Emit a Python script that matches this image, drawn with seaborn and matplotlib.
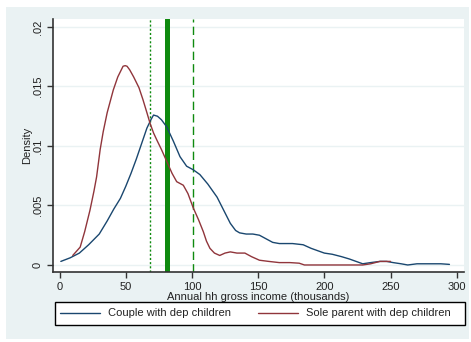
import matplotlib
matplotlib.use("Agg")
import matplotlib.pyplot as plt
from matplotlib.patches import Rectangle
import seaborn as sns
import pandas as pd

# Kernel density estimates of annual household gross income (thousands)
couple_x = [1, 8, 15, 22, 30, 36, 41, 46, 50, 54, 58, 62, 66, 69, 71, 74, 77, 81, 86, 91,
            96, 101, 106, 112, 119, 124, 129, 133, 136, 141, 146, 151, 156, 161, 166, 171,
            176, 184, 190, 195, 200, 206, 213, 219, 224, 229, 235, 242, 247, 252, 258, 263,
            270, 280, 288, 294.5]
couple_y = [0.0003, 0.0006, 0.0010, 0.0017, 0.0026, 0.0037, 0.0047, 0.0056, 0.0066, 0.0077,
            0.0089, 0.0102, 0.0115, 0.0122, 0.0126, 0.0125, 0.0122, 0.0116, 0.0104, 0.0091,
            0.0083, 0.0080, 0.0076, 0.0068, 0.0057, 0.0046, 0.0035, 0.0029, 0.0027, 0.0026,
            0.0026, 0.0025, 0.0022, 0.0019, 0.0018, 0.0018, 0.0018, 0.0017, 0.0014, 0.0012,
            0.0010, 0.0009, 0.0007, 0.0005, 0.0003, 0.0001, 0.0002, 0.0003, 0.0003, 0.0002,
            0.0001, 0.0000, 0.0001, 0.0001, 0.0001, 0.00005]

sole_x = [10, 15.6, 19, 23, 26, 28, 30.7, 33, 36, 40.6, 44, 48, 49.6, 51, 53, 56, 60, 63,
          66, 68.4, 71, 73.5, 77, 81, 85, 88.5, 93.5, 97, 101, 105, 108.6, 111, 113.6, 117,
          121, 125, 129, 134, 140, 145, 151, 158, 166, 174, 181, 185, 200, 215, 229, 235,
          242, 247, 250]
sole_y = [0.0008, 0.0015, 0.0028, 0.0046, 0.0062, 0.0074, 0.0097, 0.0112, 0.0128, 0.0147,
          0.0158, 0.0167, 0.01675, 0.0167, 0.0164, 0.0158, 0.0149, 0.0139, 0.0128, 0.0119,
          0.0111, 0.0105, 0.0097, 0.0087, 0.0077, 0.0070, 0.0067, 0.0060, 0.0048, 0.0038,
          0.0028, 0.0020, 0.0014, 0.0010, 0.0008, 0.0010, 0.0011, 0.0010, 0.0010, 0.0007,
          0.0004, 0.0003, 0.0002, 0.0002, 0.00015, 0.0000, 0.0000, 0.0000, 0.0000, 0.0001,
          0.0003, 0.0003, 0.0003]

groups = ["Couple with dep children", "Sole parent with dep children"]
palette = {groups[0]: "#1a476f", groups[1]: "#90353b"}

# Reference lines (thousands): dotted, thick solid, dashed
line_dotted = 68.2
line_solid = 81
line_dashed = 101

xticks = [0, 50, 100, 150, 200, 250, 300]
yticks = [0, 0.005, 0.01, 0.015, 0.02]
ytick_labels = ["0", ".005", ".01", ".015", ".02"]

df = pd.concat([
    pd.DataFrame({"income": couple_x, "density": couple_y, "group": groups[0]}),
    pd.DataFrame({"income": sole_x, "density": sole_y, "group": groups[1]}),
], ignore_index=True)

sns.set_style("white")
plt.rcParams["font.family"] = ["Liberation Sans", "DejaVu Sans"]
FS = 8
EM = FS * 100 / 72  # font size in pixels
TXT = "#222222"

W, H = 471, 342
fig = plt.figure(figsize=(W / 100, H / 100), dpi=100)
fig.patch.set_facecolor("white")
bg = "#eaf2f3"
fig.add_artist(Rectangle((6 / W, 1 - 339 / H), (469 - 6) / W, (339 - 7) / H,
                         transform=fig.transFigure, facecolor=bg, edgecolor="none", zorder=-10))

ax = fig.add_axes([52.5 / W, 1 - 272 / H, (464 - 52.5) / W, (272 - 19) / H])
ax.set_facecolor("white")

sns.lineplot(data=df, x="income", y="density", hue="group", palette=palette,
             linewidth=1.0, ax=ax, legend=False, sort=False)

green = "#0f8a0f"
ax.axvline(line_dotted, color=green, lw=1.0, ls=(0, (1.5, 1.5)), zorder=1)
ax.axvline(line_solid, color=green, lw=3.6, ls="-", zorder=1)
ax.axvline(line_dashed, color=green, lw=1.0, ls=(0, (6, 3)), zorder=1)

ax.set_xlim(-5.3, 305.5)
ax.set_ylim(-0.00059, 0.02067)
ax.set_xticks(xticks)
ax.set_xticklabels([str(t) for t in xticks])
ax.set_yticks(yticks)
ax.set_yticklabels(ytick_labels, rotation=90, va="center")
ax.grid(axis="y", color=bg, lw=1.0)
ax.set_axisbelow(True)

for side in ["top", "right"]:
    ax.spines[side].set_visible(False)
for side in ["left", "bottom"]:
    ax.spines[side].set_color("#333333")
    ax.spines[side].set_linewidth(1.2)
ax.tick_params(axis="both", length=4, width=1, color="#333333", labelsize=FS,
               labelcolor=TXT, pad=3, bottom=True, left=True)

ax.set_xlabel("Annual hh gross income (thousands)", fontsize=FS, color=TXT)
ax.xaxis.set_label_coords(0.5, -(297 - 272) / (272 - 19), transform=ax.transAxes)
ax.xaxis.label.set_va("center")
ax.set_ylabel("Density", fontsize=FS, color=TXT)
ax.yaxis.set_label_coords(-(52.5 - 27) / (464 - 52.5), 0.5, transform=ax.transAxes)
ax.yaxis.label.set_va("center")

# Legend box, with the entries placed inside it
fig.add_artist(Rectangle((55 / W, 1 - 325 / H), (465 - 55) / W, 23 / H,
                         transform=fig.transFigure, facecolor="white",
                         edgecolor="black", lw=1.0, zorder=5))
handles = [plt.Line2D([], [], color=palette[g], lw=1.0) for g in groups]
leg = fig.legend(handles, groups, loc="center left",
                 bbox_to_anchor=(60 / W, 1 - 313.5 / H),
                 ncol=2, frameon=False, fontsize=FS,
                 handlelength=40 / EM, handletextpad=8 / EM, columnspacing=27 / EM,
                 borderaxespad=0, borderpad=0, labelcolor=TXT)
leg.set_zorder(6)

fig.savefig("out.png", dpi=100, facecolor=fig.get_facecolor())
